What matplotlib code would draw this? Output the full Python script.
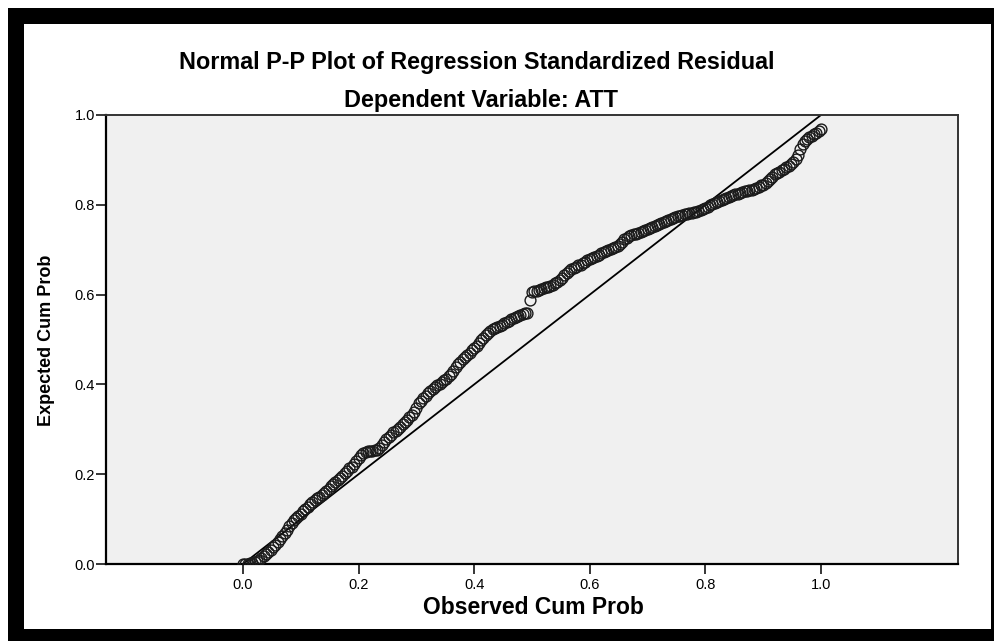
import matplotlib
matplotlib.use("Agg")
import matplotlib.pyplot as plt
from matplotlib.patches import Rectangle

plt.rcParams['font.family'] = ['Liberation Sans', 'DejaVu Sans']

title = "Normal P-P Plot of Regression Standardized Residual"
subtitle = "Dependent Variable: ATT"
xlabel = "Observed Cum Prob"
ylabel = "Expected Cum Prob"
tick_values = [0.0, 0.2, 0.4, 0.6, 0.8, 1.0]
tick_labels = ["0.0", "0.2", "0.4", "0.6", "0.8", "1.0"]

observed = [
    0.000, 0.004, 0.008, 0.012, 0.016, 0.020, 0.024, 0.028, 0.032, 0.036,
    0.040, 0.044, 0.048, 0.052, 0.056, 0.060, 0.064, 0.068, 0.072, 0.076,
    0.080, 0.084, 0.088, 0.092, 0.096, 0.100, 0.104, 0.108, 0.112, 0.116,
    0.120, 0.124, 0.128, 0.132, 0.136, 0.140, 0.144, 0.148, 0.152, 0.156,
    0.160, 0.164, 0.168, 0.172, 0.176, 0.180, 0.184, 0.188, 0.192, 0.196,
    0.200, 0.204, 0.208, 0.212, 0.216, 0.220, 0.224, 0.228, 0.232, 0.236,
    0.240, 0.244, 0.248, 0.252, 0.256, 0.260, 0.264, 0.268, 0.272, 0.276,
    0.280, 0.284, 0.288, 0.292, 0.296, 0.300, 0.304, 0.308, 0.312, 0.316,
    0.320, 0.324, 0.328, 0.332, 0.336, 0.340, 0.344, 0.348, 0.352, 0.356,
    0.360, 0.364, 0.368, 0.372, 0.376, 0.380, 0.384, 0.388, 0.392, 0.396,
    0.400, 0.404, 0.408, 0.412, 0.416, 0.420, 0.424, 0.428, 0.432, 0.436,
    0.440, 0.444, 0.448, 0.452, 0.456, 0.460, 0.464, 0.468, 0.472, 0.476,
    0.480, 0.484, 0.488, 0.492, 0.496, 0.500, 0.504, 0.508, 0.512, 0.516,
    0.520, 0.524, 0.528, 0.532, 0.536, 0.540, 0.544, 0.548, 0.552, 0.556,
    0.560, 0.564, 0.568, 0.572, 0.576, 0.580, 0.584, 0.588, 0.592, 0.596,
    0.600, 0.604, 0.608, 0.612, 0.616, 0.620, 0.624, 0.628, 0.632, 0.636,
    0.640, 0.644, 0.648, 0.652, 0.656, 0.660, 0.664, 0.668, 0.672, 0.676,
    0.680, 0.684, 0.688, 0.692, 0.696, 0.700, 0.704, 0.708, 0.712, 0.716,
    0.720, 0.724, 0.728, 0.732, 0.736, 0.740, 0.744, 0.748, 0.752, 0.756,
    0.760, 0.764, 0.768, 0.772, 0.776, 0.780, 0.784, 0.788, 0.792, 0.796,
    0.800, 0.804, 0.808, 0.812, 0.816, 0.820, 0.824, 0.828, 0.832, 0.836,
    0.840, 0.844, 0.848, 0.852, 0.856, 0.860, 0.864, 0.868, 0.872, 0.876,
    0.880, 0.884, 0.888, 0.892, 0.896, 0.900, 0.904, 0.908, 0.912, 0.916,
    0.920, 0.924, 0.928, 0.932, 0.936, 0.940, 0.944, 0.948, 0.952, 0.956,
    0.960, 0.964, 0.968, 0.972, 0.976, 0.980, 0.984, 0.988, 0.992, 0.996,
    1.000,
]
expected = [
    0.000, 0.000, 0.001, 0.002, 0.003, 0.005, 0.007, 0.010, 0.013, 0.017,
    0.022, 0.027, 0.032, 0.037, 0.043, 0.049, 0.055, 0.062, 0.069, 0.076,
    0.084, 0.091, 0.097, 0.103, 0.108, 0.112, 0.117, 0.123, 0.128, 0.133,
    0.138, 0.142, 0.146, 0.150, 0.154, 0.158, 0.162, 0.168, 0.173, 0.178,
    0.183, 0.188, 0.192, 0.197, 0.202, 0.208, 0.213, 0.217, 0.222, 0.229,
    0.236, 0.242, 0.248, 0.250, 0.251, 0.251, 0.252, 0.253, 0.254, 0.259,
    0.265, 0.272, 0.278, 0.283, 0.288, 0.293, 0.297, 0.301, 0.306, 0.311,
    0.316, 0.321, 0.327, 0.332, 0.338, 0.348, 0.358, 0.364, 0.369, 0.375,
    0.380, 0.385, 0.390, 0.394, 0.398, 0.401, 0.405, 0.409, 0.413, 0.418,
    0.423, 0.430, 0.438, 0.445, 0.451, 0.456, 0.461, 0.466, 0.471, 0.476,
    0.481, 0.486, 0.492, 0.498, 0.504, 0.510, 0.515, 0.520, 0.524, 0.526,
    0.528, 0.530, 0.533, 0.536, 0.539, 0.542, 0.545, 0.548, 0.550, 0.553,
    0.555, 0.557, 0.559, 0.560, 0.589, 0.605, 0.607, 0.609, 0.611, 0.613,
    0.614, 0.616, 0.617, 0.619, 0.621, 0.625, 0.629, 0.633, 0.638, 0.644,
    0.649, 0.653, 0.656, 0.659, 0.662, 0.665, 0.667, 0.670, 0.672, 0.676,
    0.679, 0.682, 0.684, 0.687, 0.689, 0.692, 0.694, 0.697, 0.699, 0.702,
    0.704, 0.707, 0.709, 0.713, 0.718, 0.723, 0.727, 0.730, 0.732, 0.734,
    0.736, 0.738, 0.739, 0.741, 0.743, 0.746, 0.748, 0.751, 0.753, 0.756,
    0.758, 0.760, 0.762, 0.764, 0.766, 0.768, 0.770, 0.772, 0.774, 0.776,
    0.777, 0.779, 0.780, 0.781, 0.782, 0.784, 0.785, 0.787, 0.788, 0.790,
    0.792, 0.795, 0.799, 0.802, 0.805, 0.807, 0.809, 0.811, 0.813, 0.815,
    0.817, 0.819, 0.821, 0.823, 0.825, 0.827, 0.828, 0.830, 0.831, 0.833,
    0.834, 0.836, 0.838, 0.840, 0.843, 0.845, 0.848, 0.853, 0.858, 0.863,
    0.868, 0.871, 0.874, 0.877, 0.880, 0.884, 0.887, 0.891, 0.896, 0.902,
    0.912, 0.925, 0.936, 0.942, 0.946, 0.950, 0.953, 0.957, 0.960, 0.964,
    0.968,
]
reference_line = [0.0, 1.0]

W, H = 994, 641
fig = plt.figure(figsize=(W / 100, H / 100), dpi=100)
fig.patch.set_facecolor('white')

# black outer frame and white inner panel
fig.add_artist(Rectangle((8 / W, 0), 1 - 8 / W, (H - 8) / H,
                         transform=fig.transFigure, facecolor='black',
                         edgecolor='none', zorder=-10))
fig.add_artist(Rectangle((24 / W, (H - 629) / H), (991 - 24) / W, (629 - 24) / H,
                         transform=fig.transFigure, facecolor='white',
                         edgecolor='none', zorder=-9))

ax = fig.add_axes([106 / W, 1 - 564 / H, (958 - 106) / W, (564 - 115) / H])
ax.set_facecolor('#f0f0f0')
ax.set_xlim(-0.237, 1.237)
ax.set_ylim(0.0, 1.0)

ax.plot(reference_line, reference_line, color='black', lw=1.3, zorder=2)
ax.plot(observed, expected, linestyle='none', marker='o', markersize=7.8,
        markerfacecolor='none', markeredgecolor='#1a1a1a', markeredgewidth=1.0,
        zorder=3)

ax.set_xticks(tick_values)
ax.set_xticklabels(tick_labels)
ax.set_yticks(tick_values)
ax.set_yticklabels(tick_labels)
ax.tick_params(axis='both', direction='out', length=7, width=1.1, color='black',
               labelsize=10.5, labelcolor='black')
ax.tick_params(axis='y', pad=1)
ax.tick_params(axis='x', pad=3)

for side in ['left', 'bottom']:
    ax.spines[side].set_linewidth(1.6)
    ax.spines[side].set_color('black')
for side in ['top', 'right']:
    ax.spines[side].set_linewidth(1.4)
    ax.spines[side].set_color('#333333')

fig.text(0.480, 1 - 62 / H, title, ha='center', va='center',
         fontsize=16.8, fontweight='bold')
fig.text(0.484, 1 - 100 / H, subtitle, ha='center', va='center',
         fontsize=16.8, fontweight='bold')
fig.text(533 / W, 1 - 608 / H, xlabel, ha='center', va='center',
         fontsize=16.5, fontweight='bold')
fig.text(47 / W, 1 - 340 / H, ylabel, ha='center', va='center',
         rotation=90, fontsize=13, fontweight='bold')

fig.savefig('out.png', dpi=100)
